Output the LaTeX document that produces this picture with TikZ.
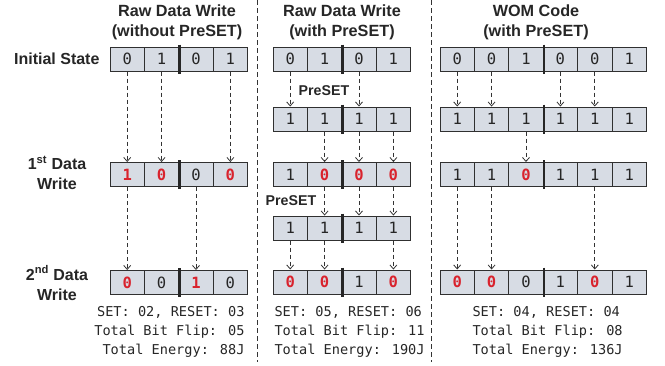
\documentclass[tikz,border=0pt]{standalone}
\usepackage{fontspec}
\setmainfont{Liberation Sans}
\newfontfamily\monofont{DejaVu Sans Mono}
\usetikzlibrary{arrows.meta}
\definecolor{cellfill}{HTML}{D7DCE4}
\definecolor{wred}{HTML}{D9232D}
\definecolor{edgegray}{HTML}{303030}
\newcommand\rb[1]{\textcolor{wred}{\bfseries #1}}
\begin{document}
\begin{tikzpicture}[x=1pt,y=-1pt,
  cell/.style={draw=edgegray, line width=1pt, fill=cellfill, minimum width=34.4pt,
    minimum height=24pt, inner sep=0pt, font=\monofont\fontsize{15.5}{15.5}\selectfont, text=black!85},
  arr/.style={draw=black!80, line width=0.8pt, dash pattern=on 4pt off 3pt,
    -{Straight Barb[length=4pt,width=7pt,line width=0.8pt]}},
  divider/.style={line width=2.4pt, draw=black!85},
  sep/.style={draw=black!80, line width=1pt, dash pattern=on 5pt off 3pt},
  title/.style={font=\bfseries\fontsize{16.2}{20}\selectfont, align=center, text=black!85},
  rowlab/.style={font=\bfseries\fontsize{16}{20}\selectfont, align=center, text=black!85},
  plab/.style={font=\bfseries\fontsize{14.2}{14}\selectfont, text=black!85},
  stats/.style={font=\monofont\fontsize{13.6}{18.8}\selectfont, text=black!85}]
\useasboundingbox (0,0) rectangle (665,365);

% separators
\coordinate (s1t) at (257,0); \coordinate (s1b) at (257,362);
\coordinate (s2t) at (431,0); \coordinate (s2b) at (431,362);
\draw[sep] (s1t) -- (s1b);
\draw[sep] (s2t) -- (s2b);

% titles
\node[title] (t1) at (177,22) {Raw Data Write\\(without PreSET)};
\node[title] (t2) at (342,22) {Raw Data Write\\(with PreSET)};
\node[title] (t3) at (536,22) {WOM Code\\(with PreSET)};

% row labels
\node[rowlab, anchor=east] (lab0) at (103,59) {Initial State};
\node[rowlab] (lab1) at (57,173) {1\textsuperscript{st} Data\\Write};
\node[rowlab] (lab2) at (57,283) {2\textsuperscript{nd} Data\\Write};

% left column
\foreach \v [count=\i] in {0,1,0,1}
  \node[cell] (L0c\i) at ({110+34.4*(\i-0.5)},59) {\v};
\foreach \v [count=\i] in {\rb1,\rb0,0,\rb0}
  \node[cell] (L1c\i) at ({110+34.4*(\i-0.5)},174.5) {\v};
\foreach \v [count=\i] in {\rb0,0,\rb1,0}
  \node[cell] (L2c\i) at ({110+34.4*(\i-0.5)},282.5) {\v};
\foreach \r in {L0,L1,L2}
  \draw[divider] ([yshift=2pt]\r c2.north east) -- ([yshift=-2pt]\r c2.south east);
\foreach \i in {1,2,4} \draw[arr] (L0c\i.south) -- (L1c\i.north);
\foreach \i in {1,3} \draw[arr] (L1c\i.south) -- (L2c\i.north);

% middle column
\foreach \v [count=\i] in {0,1,0,1}
  \node[cell] (M0c\i) at ({273+34.4*(\i-0.5)},59) {\v};
\foreach \v [count=\i] in {1,1,1,1}
  \node[cell] (M1c\i) at ({273+34.4*(\i-0.5)},119) {\v};
\foreach \v [count=\i] in {1,\rb0,\rb0,\rb0}
  \node[cell] (M2c\i) at ({273+34.4*(\i-0.5)},174.5) {\v};
\foreach \v [count=\i] in {1,1,1,1}
  \node[cell] (M3c\i) at ({273+34.4*(\i-0.5)},228) {\v};
\foreach \v [count=\i] in {\rb0,\rb0,1,\rb0}
  \node[cell] (M4c\i) at ({273+34.4*(\i-0.5)},282) {\v};
\foreach \r in {M0,M1,M2,M3,M4}
  \draw[divider] ([yshift=2pt]\r c2.north east) -- ([yshift=-2pt]\r c2.south east);
\foreach \i in {1,3} \draw[arr] (M0c\i.south) -- (M1c\i.north);
\foreach \i in {2,3,4} \draw[arr] (M1c\i.south) -- (M2c\i.north);
\foreach \i in {2,3,4} \draw[arr] (M2c\i.south) -- (M3c\i.north);
\foreach \i in {1,2,4} \draw[arr] (M3c\i.south) -- (M4c\i.north);
\node[plab] (p1) at (324,91) {PreSET};
\node[plab] (p2) at (291,201) {PreSET};

% right column
\foreach \v [count=\i] in {0,0,1,0,0,1}
  \node[cell] (R0c\i) at ({440+34.4*(\i-0.5)},59) {\v};
\foreach \v [count=\i] in {1,1,1,1,1,1}
  \node[cell] (R1c\i) at ({440+34.4*(\i-0.5)},119) {\v};
\foreach \v [count=\i] in {1,1,\rb0,1,1,1}
  \node[cell] (R2c\i) at ({440+34.4*(\i-0.5)},174.5) {\v};
\foreach \v [count=\i] in {\rb0,\rb0,0,1,\rb0,1}
  \node[cell] (R3c\i) at ({440+34.4*(\i-0.5)},282) {\v};
\foreach \r in {R0,R1,R2,R3}
  \draw[divider] ([yshift=2pt]\r c3.north east) -- ([yshift=-2pt]\r c3.south east);
\foreach \i in {1,2,4,5} \draw[arr] (R0c\i.south) -- (R1c\i.north);
\foreach \i in {3} \draw[arr] (R1c\i.south) -- (R2c\i.north);
\foreach \i in {1,2,5} \draw[arr] (R2c\i.south) -- (R3c\i.north);

% stats
\node[stats, anchor=east, align=right] (st1) at (248,332) {SET: 02, RESET: 03\\Total Bit Flip: 05\\Total Energy: 88J};
\node[stats, anchor=west, align=left] (st2) at (271,332) {SET: 05, RESET: 06\\Total Bit Flip: 11\\Total Energy: 190J};
\node[stats, anchor=west, align=left] (st3) at (469,332) {SET: 04, RESET: 04\\Total Bit Flip: 08\\Total Energy: 136J};
\end{tikzpicture}
\end{document}
